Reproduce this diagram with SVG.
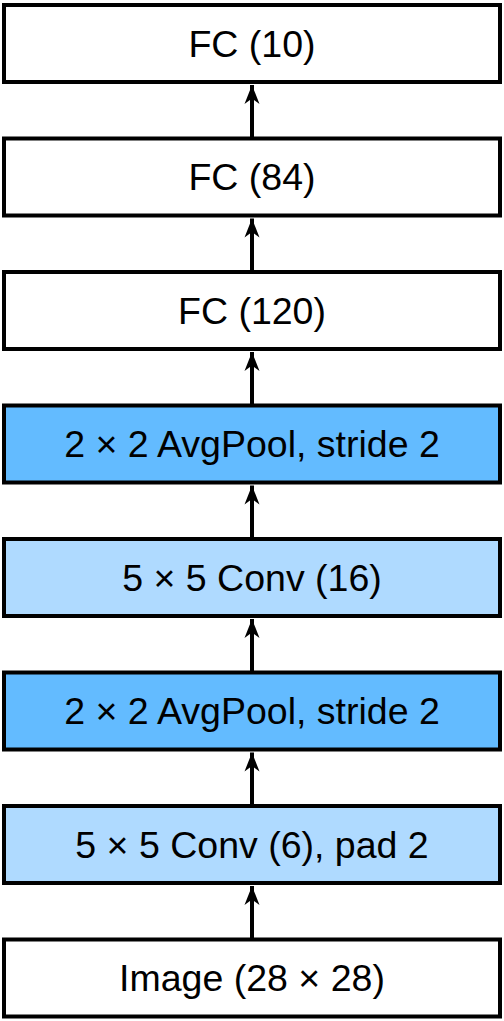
<svg xmlns="http://www.w3.org/2000/svg" width="504" height="1021" viewBox="0 0 504 1021">
<defs>
<style>
.box{stroke:#000;stroke-width:4}
.w{fill:#fff}
.d{fill:#63BBFF}
.l{fill:#AFDAFF}
text{font-family:"Liberation Sans",Arial,sans-serif;font-size:37.5px;fill:#000;text-anchor:middle}
.c line{stroke:#000;stroke-width:4}
</style>
<marker id="ah" viewBox="0 0 20 18" refX="19" refY="9" markerUnits="userSpaceOnUse" markerWidth="20" markerHeight="18" orient="auto">
<path d="M19,9 L0,1.5 L5.5,9 L0,16.5 Z" fill="#000"/>
</marker>
</defs>
<rect width="504" height="1021" fill="#fff"/>
<g class="c" id="connectors">
<line x1="252" y1="138.5" x2="252" y2="85" marker-end="url(#ah)"/>
<line x1="252" y1="272" x2="252" y2="218.5" marker-end="url(#ah)"/>
<line x1="252" y1="405.5" x2="252" y2="352" marker-end="url(#ah)"/>
<line x1="252" y1="539" x2="252" y2="485.5" marker-end="url(#ah)"/>
<line x1="252" y1="672.5" x2="252" y2="619" marker-end="url(#ah)"/>
<line x1="252" y1="806" x2="252" y2="752.5" marker-end="url(#ah)"/>
<line x1="252" y1="939.5" x2="252" y2="886" marker-end="url(#ah)"/>
</g>
<g id="fc10"><rect class="box w" x="4" y="5" width="496" height="77"/><text x="252" y="56.5">FC (10)</text></g>
<g id="fc84"><rect class="box w" x="4" y="138.5" width="496" height="77"/><text x="252" y="190">FC (84)</text></g>
<g id="fc120"><rect class="box w" x="4" y="272" width="496" height="77"/><text x="252" y="323.5">FC (120)</text></g>
<g id="pool2"><rect class="box d" x="4" y="405.5" width="496" height="77"/><text x="252" y="457">2 × 2 AvgPool, stride 2</text></g>
<g id="conv2"><rect class="box l" x="4" y="539" width="496" height="77"/><text x="252" y="590.5">5 × 5 Conv (16)</text></g>
<g id="pool1"><rect class="box d" x="4" y="672.5" width="496" height="77"/><text x="252" y="724">2 × 2 AvgPool, stride 2</text></g>
<g id="conv1"><rect class="box l" x="4" y="806" width="496" height="77"/><text x="252" y="857.5">5 × 5 Conv (6), pad 2</text></g>
<g id="image"><rect class="box w" x="4" y="939.5" width="496" height="77"/><text x="252" y="991">Image (28 × 28)</text></g>
</svg>
